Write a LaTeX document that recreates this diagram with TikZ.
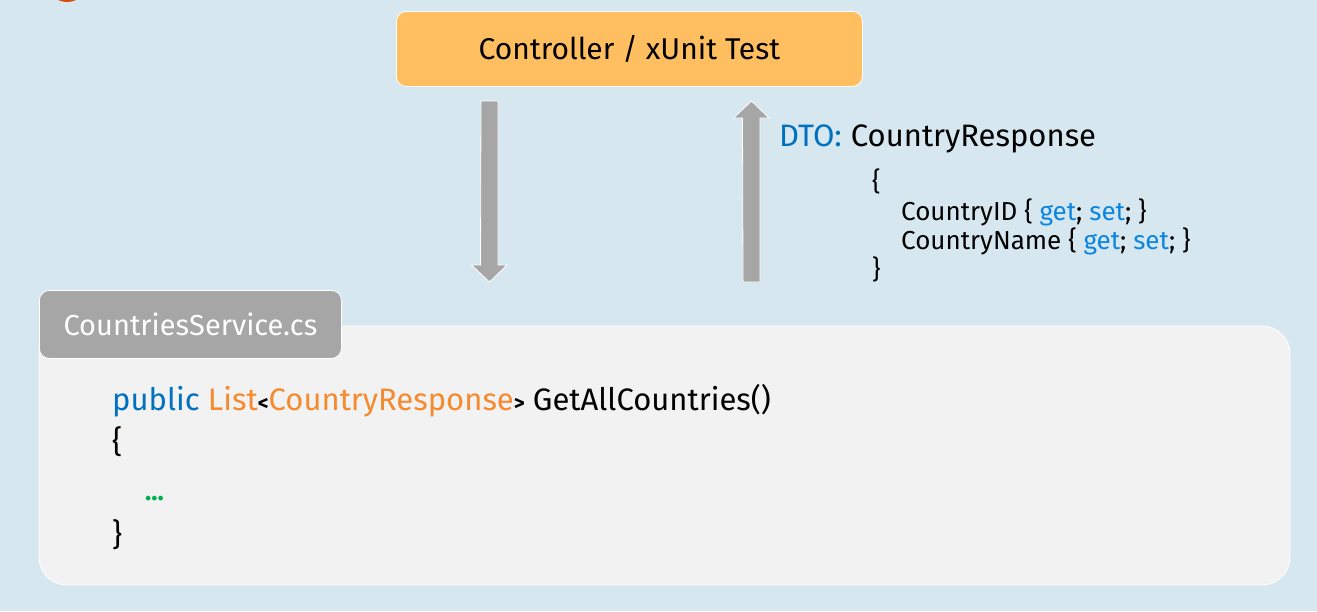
\documentclass[tikz,border=0pt]{standalone}
\usepackage{fontspec}
\setmainfont{Fira Sans}
\usetikzlibrary{positioning}
\definecolor{bg}{HTML}{D7E7F0}
\definecolor{orangebox}{HTML}{FFBE5F}
\definecolor{arrowgray}{HTML}{A6A6A6}
\definecolor{panel}{HTML}{F2F2F2}
\definecolor{kwblue}{HTML}{0070C0}
\definecolor{getblue}{HTML}{0A86E0}
\definecolor{typeorange}{HTML}{F58A2E}
\definecolor{dotgreen}{HTML}{00B050}
\definecolor{redorange}{HTML}{D9480F}
\tikzset{
  box/.style={draw=white, line width=0.8pt, rounded corners=10pt},
  bigarrow/.style={fill=arrowgray, draw=white, line width=0.8pt, line join=miter},
  txt/.style={inner sep=0pt, anchor=base west},
}
\newcommand{\angl}[1]{{\fontsize{21}{24}\selectfont\textbf{#1}}}
\begin{document}
\begin{tikzpicture}[x=1pt,y=-1pt]
\useasboundingbox (0,0) rectangle (1317,611);
\fill[bg] (0,0) rectangle (1317,611);
\begin{scope}
\clip (0,0) rectangle (1317,611);
\fill[redorange] (67,-18) circle (20);
\end{scope}
% controller box
\node[box, fill=orangebox, minimum width=466pt, minimum height=75pt, anchor=north west, font=\fontsize{30}{34}\selectfont] (ctrl) at (396,11) {Controller / xUnit Test};
% main panel
\draw[box, fill=panel, rounded corners=28pt] (39,326) rectangle (1290,585);
\node[box, fill=arrowgray, minimum width=302pt, minimum height=68pt, anchor=north west, text=white, font=\fontsize{29}{33}\selectfont] (svc) at (39,290) {CountriesService.cs};
% arrows
\coordinate (dtop) at (489.5,101);
\coordinate (dtip) at (489.5,282);
\draw[bigarrow] (dtop) ++(-8.5,0) -- ++(17,0) -- ++(0,164) -- ++(9,0) -- (dtip) -- ++(-18,-17) -- ++(9,0) -- cycle;
\coordinate (ubot) at (751.5,282);
\coordinate (utip) at (751.5,101);
\draw[bigarrow] (ubot) ++(-8.5,0) -- ++(17,0) -- ++(0,-164) -- ++(9,0) -- (utip) -- ++(-18,17) -- ++(9,0) -- cycle;
% DTO text
\node[txt, font=\fontsize{31}{34}\selectfont] (dto) at (779,146) {\textcolor{kwblue}{DTO:}\hspace{9pt}CountryResponse};
\node[txt, font=\fontsize{26}{30}\selectfont] (ob) at (872,190) {\{};
\node[txt, font=\fontsize{26}{30}\selectfont] (cid) at (901,220) {CountryID \{ \textcolor{getblue}{get}; \textcolor{getblue}{set}; \}};
\node[txt, font=\fontsize{26}{30}\selectfont] (cname) at (901,249) {CountryName \{ \textcolor{getblue}{get}; \textcolor{getblue}{set}; \}};
\node[txt, font=\fontsize{26}{30}\selectfont] (cb) at (872,278) {\}};
% code
\node[txt, font=\fontsize{31}{34}\selectfont] (sig) at (112,410) {\textcolor{kwblue}{public} \textcolor{typeorange}{List}\angl{<}\textcolor{typeorange}{CountryResponse}\angl{>} GetAllCountries()};
\node[txt, font=\fontsize{31}{34}\selectfont] (lb) at (112,452) {\{};
\node[txt, font=\fontsize{26}{30}\selectfont\bfseries, text=dotgreen] (dots) at (145,500) {...};
\node[txt, font=\fontsize{31}{34}\selectfont] (rb) at (112,545) {\}};
\end{tikzpicture}
\end{document}
